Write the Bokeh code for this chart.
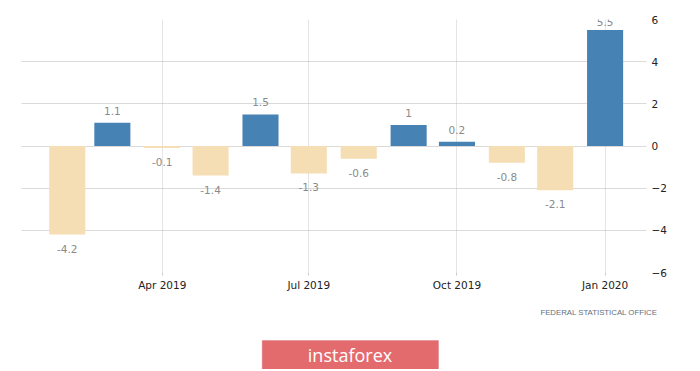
from datetime import datetime
import pandas as pd
from bokeh.plotting import figure
from bokeh.layouts import column
from bokeh.models import (ColumnDataSource, Range1d, FixedTicker, DatetimeTickFormatter,
                          Label, LabelSet, BoxAnnotation)
from bokeh.embed import file_html
from bokeh.resources import INLINE
from bokeh.core.properties import value

# ---- data ----
months = ["2019-02-01", "2019-03-01", "2019-04-01", "2019-05-01", "2019-06-01", "2019-07-01",
          "2019-08-01", "2019-09-01", "2019-10-01", "2019-11-01", "2019-12-01", "2020-01-01"]
values = [-4.2, 1.1, -0.1, -1.4, 1.5, -1.3, -0.6, 1.0, 0.2, -0.8, -2.1, 5.5]
value_labels = ["-4.2", "1.1", "-0.1", "-1.4", "1.5", "-1.3", "-0.6", "1", "0.2", "-0.8", "-2.1", "5.5"]
x_tick_dates = ["2019-04-01", "2019-07-01", "2019-10-01", "2020-01-01"]
y_ticks = [-6, -4, -2, 0, 2, 4, 6]
source_note = "FEDERAL STATISTICAL OFFICE"
brand = "instaforex"

POS = "#4682B4"
NEG = "#F5DEB3"
FONT = "DejaVu Sans"
DAY = 86400000
W = 690

dates = pd.to_datetime(months)
colors = [POS if v >= 0 else NEG for v in values]
yoff = []
for v in values:
    if v >= 0:
        yoff.append(8.5 if v > 5 else 12)
    else:
        yoff.append(-14)

src = ColumnDataSource(dict(date=dates, value=values, label=value_labels,
                            color=colors, yoff=yoff))

p = figure(width=W, height=299, x_axis_type="datetime", y_axis_location="right",
           output_backend="svg", toolbar_location=None,
           x_range=Range1d(datetime(2019, 1, 3, 14), datetime(2020, 1, 26, 17)),
           y_range=Range1d(-6, 6),
           min_border_left=21, min_border_right=W - 21 - 625, min_border_top=19,
           min_border_bottom=27)
p.outline_line_color = None
p.background_fill_color = "white"
p.border_fill_color = "white"

p.vbar(x="date", top="value", bottom=0, width=22.4 * DAY, fill_color="color",
       line_color=None, source=src)

labels = LabelSet(x="date", y="value", text="label", source=src, y_offset="yoff",
                  text_align="center", text_baseline="middle",
                  text_font=value(FONT), text_font_size="10.5px", text_color="#8a8a8a")
p.add_layout(labels)

# x axis
tick_ms = [pd.Timestamp(t).timestamp() * 1000 for t in x_tick_dates]
p.xaxis.ticker = FixedTicker(ticks=tick_ms)
fmt = "%b %Y"
p.xaxis.formatter = DatetimeTickFormatter(days=fmt, months=fmt, years=fmt, hours=fmt,
                                          minutes=fmt, seconds=fmt, milliseconds=fmt,
                                          microseconds=fmt, minsec=fmt, hourmin=fmt)
p.xaxis.axis_line_color = None
p.xaxis.major_tick_line_color = "#cccccc"
p.xaxis.major_tick_in = 0
p.xaxis.major_tick_out = 3
p.xaxis.minor_tick_line_color = None
p.xaxis.major_label_standoff = 3
p.xaxis.major_label_text_font = FONT
p.xaxis.major_label_text_font_size = "10.5px"
p.xaxis.major_label_text_color = "#222222"

# y axis
p.yaxis.ticker = FixedTicker(ticks=y_ticks)
p.yaxis.axis_line_color = None
p.yaxis.major_tick_line_color = None
p.yaxis.minor_tick_line_color = None
p.yaxis.major_tick_in = 0
p.yaxis.major_tick_out = 0
p.yaxis.major_label_standoff = 5
p.yaxis.major_label_text_font = FONT
p.yaxis.major_label_text_font_size = "10.5px"
p.yaxis.major_label_text_color = "#222222"

# grids
p.xgrid.grid_line_color = "#c8c8c8"
p.xgrid.grid_line_dash = "1 1"
p.ygrid.grid_line_color = "#b4b4b4"
p.ygrid.grid_line_dash = "1 1"

# ---- footer: source note and brand banner ----
f = figure(width=W, height=70, output_backend="svg", toolbar_location=None,
           x_range=Range1d(0, W), y_range=Range1d(70, 0),
           x_axis_location=None, y_axis_location=None,
           min_border_left=0, min_border_right=0, min_border_top=0, min_border_bottom=0)
if "frame_align" in f.properties():
    f.frame_align = False
f.outline_line_color = None
f.grid.visible = False
f.background_fill_color = "white"
f.border_fill_color = "white"

f.add_layout(Label(x=657, y=12.7, text=source_note,
                   text_align="right", text_baseline="middle", text_font="Liberation Sans",
                   text_font_size="7.8px", text_color="#5f6f80"))
f.add_layout(BoxAnnotation(left=261.7, right=438, top=41, bottom=70,
                           fill_color="#e36b6e", fill_alpha=1.0,
                           line_color="#d4676a", line_width=1))
f.add_layout(Label(x=349.5, y=55.5, text=brand,
                   text_align="center", text_baseline="middle", text_font="Open Sans",
                   text_font_size="18px", text_color="white"))

layout = column(p, f, spacing=0)
open("out.html", "w").write(file_html(layout, INLINE))
